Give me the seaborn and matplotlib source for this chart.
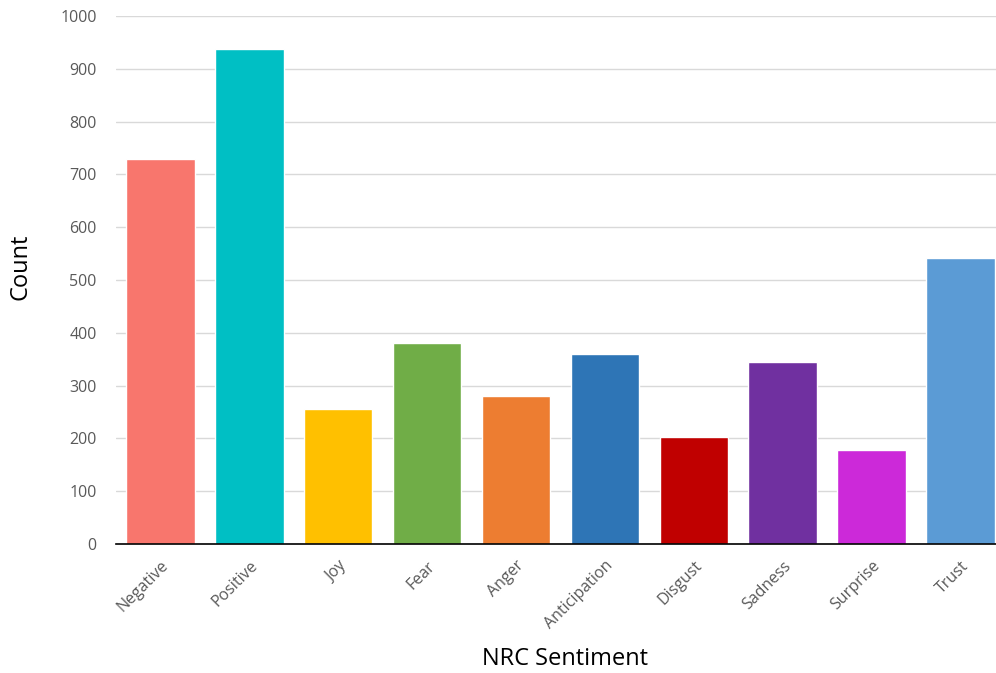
import matplotlib
matplotlib.use("Agg")
import matplotlib.pyplot as plt
import seaborn as sns
import pandas as pd

categories = ["Negative", "Positive", "Joy", "Fear", "Anger", "Anticipation",
              "Disgust", "Sadness", "Surprise", "Trust"]
counts = [729, 938, 255, 381, 281, 359, 202, 345, 178, 541]
colors = ["#F8766D", "#00BFC4", "#FFC000", "#70AD47", "#ED7D31", "#2E75B6",
          "#C00000", "#7030A0", "#CC29D9", "#5B9BD5"]
y_ticks = [0, 100, 200, 300, 400, 500, 600, 700, 800, 900, 1000]

sns.set_theme(style="white")
plt.rcParams['font.family'] = ['Open Sans', 'DejaVu Sans']

df = pd.DataFrame({"Sentiment": categories, "Count": counts})

fig = plt.figure(figsize=(9.96, 6.73), dpi=100)
ax = fig.add_axes([0.1165, 0.1917, 0.8835, 0.7845])

sns.barplot(data=df, x="Sentiment", y="Count", hue="Sentiment",
            palette=colors, legend=False, width=0.77, ax=ax, saturation=1)

ax.set_ylim(0, 1000)
ax.set_xlim(-0.5, 9.4)
ax.set_yticks(y_ticks)
ax.set_yticklabels([str(v) for v in y_ticks], color="#595959", fontsize=11.5)
ax.set_xticks(range(len(categories)))
ax.set_xticklabels(categories, rotation=45, ha="right", rotation_mode="anchor",
                   color="#595959", fontsize=11.5)
ax.tick_params(axis="x", length=0, pad=10)
ax.tick_params(axis="y", length=0, pad=14)

ax.yaxis.grid(True, color="#d9d9d9", linewidth=1)
ax.set_axisbelow(True)
for s in ["top", "right", "left"]:
    ax.spines[s].set_visible(False)
ax.spines["bottom"].set_color("black")
ax.spines["bottom"].set_linewidth(1.2)

ax.set_ylabel("Count", fontsize=17, color="black", va="center")
ax.set_xlabel("NRC Sentiment", fontsize=17, color="black", va="center")
ax.yaxis.set_label_coords(-0.108, 0.525)
ax.xaxis.set_label_coords(0.51, -0.218)

fig.savefig("out.png", dpi=100)
